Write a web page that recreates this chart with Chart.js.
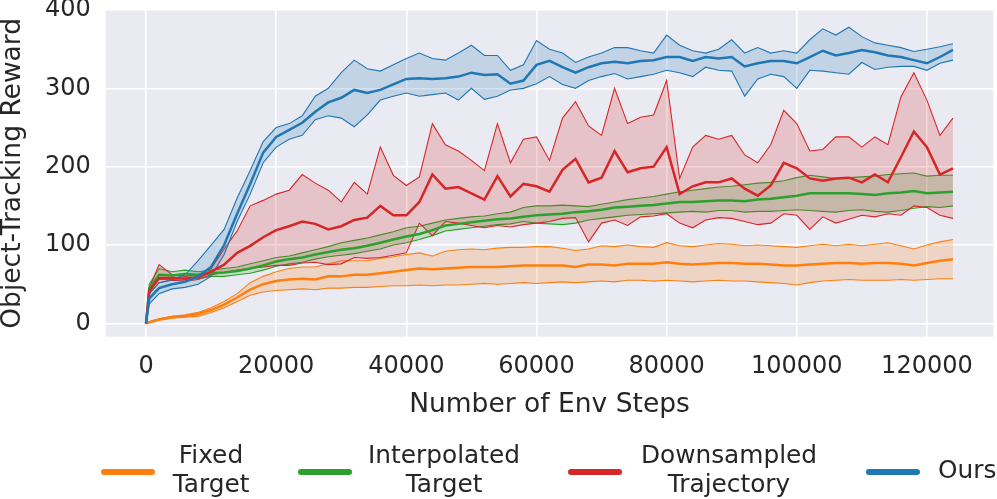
<!DOCTYPE html>
<html><head><meta charset="utf-8">
<script src="https://cdn.jsdelivr.net/npm/chart.js@4.4.0/dist/chart.umd.min.js"></script>
<style>
html,body{margin:0;padding:0;background:#fff;}
#wrap{position:relative;width:997px;height:499px;overflow:hidden;}
canvas{position:absolute;left:0;top:0;}
.leg{position:absolute;font-family:"DejaVu Sans";font-size:24.8px;color:#262626;line-height:29px;text-align:center;width:240px;white-space:nowrap;}
.sw{position:absolute;height:5.5px;border-radius:3px;width:54px;top:469px;}
</style></head>
<body><div id="wrap"><canvas id="c" width="997" height="499"></canvas>
<div class="sw" style="left:101px;background:#ff7f0e"></div>
<div class="leg" style="left:91px;top:439.5px">Fixed<br>Target</div>
<div class="sw" style="left:298px;background:#2ca02c"></div>
<div class="leg" style="left:324px;top:439.5px">Interpolated<br>Target</div>
<div class="sw" style="left:568px;background:#d62728"></div>
<div class="leg" style="left:609px;top:439.5px">Downsampled<br>Trajectory</div>
<div class="sw" style="left:866px;background:#1f77b4"></div>
<div class="leg" style="left:938px;top:454.5px;text-align:left;width:80px">Ours</div>
</div>
<script>
const steps = [0,500,2000,4000,6000,8000,10000,12000,14000,16000,18000,20000,22000,24000,26000,28000,30000,32000,34000,36000,38000,40000,42000,44000,46000,48000,50000,52000,54000,56000,58000,60000,62000,64000,66000,68000,70000,72000,74000,76000,78000,80000,82000,84000,86000,88000,90000,92000,94000,96000,98000,100000,102000,104000,106000,108000,110000,112000,114000,116000,118000,120000,122000,124000];

const fixedUpper = [0,2,6,9,11,14,20,28,38,52,60,66,70,72,72,76,80,80,80,83,85,88,90,86,92,94,95,94,96,97,97,98,98,96,93,95,99,98,100,98,97,103,99,98,100,102,101,99,100,99,98,97,99,101,99,101,99,101,103,99,95,100,104,107];
const fixedMean  = [0,1.5,5,8,9.5,12,17,24,33,43,50,54,56,57,56,60,60,62,62,64,66,68,70,69,70,71,72,72,72,73,74,74,74,74,72,75,75,74,76,76,76,78,76,75,76,77,77,76,76,75,74,74,75,76,77,77,76,77,77,76,74,77,80,82];
const fixedLower = [0,1,4,6.5,8,9,14,20,28,36,40,42,43,44,43,45,45,46,46,47,48,48,49,48,49,49,50,51,50,51,52,51,52,53,52,53,54,53,55,55,54,55,54,53,54,55,54,54,53,52,51,49,52,54,55,56,55,55,55,56,55,56,57,57];

const interpUpper = [0,50,70,66,68,66,68,70,72,76,80,84,86,90,94,98,103,106,109,113,117,122,124,128,132,134,136,137,140,142,148,150,150,151,150,149,152,155,158,160,162,165,168,170,172,174,175,177,179,180,182,186,189,187,185,186,187,188,190,191,192,188,189,189];
const interpMean  = [0,45,62,61,63,62,64,65,67,70,74,79,82,84,88,91,94,96,99,103,107,111,114,119,125,127,129,131,133,134,136,138,139,140,142,143,145,148,149,150,151,153,155,155,156,157,157,156,158,159,161,163,166,166,166,166,165,164,166,167,169,166,167,168];
const interpLower = [0,40,56,56,58,57,60,60,62,64,68,73,76,78,82,85,87,89,92,95,100,103,107,112,118,120,122,124,126,127,130,128,127,126,128,132,134,136,138,139,140,141,142,143,142,144,144,142,143,143,144,145,144,143,142,144,145,143,142,144,147,149,148,150];

const downUpper = [0,45,75,62,60,62,70,95,118,150,157,165,170,190,179,170,155,180,165,225,189,176,187,255,228,220,208,195,255,205,235,238,208,262,283,252,240,300,255,263,266,310,185,225,240,235,240,215,205,228,272,255,220,222,238,238,225,238,228,289,320,285,240,262];
const downMean  = [0,42,58,58,57,59,66,75,90,99,110,119,124,130,127,120,124,132,135,150,138,138,155,190,172,174,166,158,188,162,178,175,168,196,210,180,186,220,193,198,200,225,165,175,180,180,185,172,163,176,205,198,185,182,185,186,180,190,180,212,245,225,190,198];
const downLower = [0,38,52,55,54,56,62,65,68,70,72,74,74,77,78,75,76,84,83,84,87,90,128,112,130,128,125,122,125,123,126,128,130,134,135,104,128,132,125,136,137,140,128,122,132,135,134,130,126,128,140,138,120,136,128,133,138,136,140,138,150,148,138,134];

const oursUpper = [0,38,52,56,62,80,100,120,160,195,232,250,255,265,290,300,320,336,325,322,330,338,345,338,336,345,355,342,342,323,330,361,350,345,333,340,345,352,352,348,345,368,355,348,345,350,362,345,352,345,348,345,362,376,368,378,366,358,355,352,347,350,353,357];
const oursMean  = [0,32,45,50,53,60,72,100,140,178,218,238,247,256,270,282,288,298,294,298,305,312,313,312,313,315,320,317,318,306,310,330,335,327,320,327,332,334,332,335,336,340,340,335,340,338,340,328,332,335,335,332,340,348,342,345,349,346,342,340,336,332,340,349];
const oursLower = [0,25,38,44,46,50,60,88,130,165,205,225,235,240,260,265,262,251,266,285,290,294,290,292,294,285,300,286,290,298,300,306,315,305,300,310,315,319,312,315,318,323,320,315,327,323,322,290,312,318,315,300,323,322,320,318,333,324,327,328,328,323,332,336];

const xTicks = [0,20000,40000,60000,80000,100000,120000];
const yTicks = [0,100,200,300,400];

const FONT = "DejaVu Sans";
const TXT = "#262626";

const series = [
  {label:"Fixed Target", color:"#ff7f0e", rgb:"255,127,14", lower:fixedLower, mean:fixedMean, upper:fixedUpper, order:40, mo:4},
  {label:"Interpolated Target", color:"#2ca02c", rgb:"44,160,44", lower:interpLower, mean:interpMean, upper:interpUpper, order:30, mo:3},
  {label:"Downsampled Trajectory", color:"#d62728", rgb:"214,39,40", lower:downLower, mean:downMean, upper:downUpper, order:20, mo:2},
  {label:"Ours", color:"#1f77b4", rgb:"31,119,180", lower:oursLower, mean:oursMean, upper:oursUpper, order:10, mo:1}
];
const pts = arr => steps.map((x,i)=>({x:x, y:arr[i]}));
const datasets = [];
series.forEach(s=>{
  const base = datasets.length;
  datasets.push({label:s.label+" lower", data:pts(s.lower), borderColor:s.color, borderWidth:1.1, fill:false, order:s.order+2});
  datasets.push({label:s.label+" upper", data:pts(s.upper), borderColor:s.color, borderWidth:1.1, fill:{target:base}, backgroundColor:"rgba("+s.rgb+",0.2)", order:s.order+1});
  datasets.push({label:s.label, data:pts(s.mean), borderColor:s.color, borderWidth:2.5, fill:false, order:s.mo});
});

const bgPlugin = {id:"bg", beforeDraw(chart){const a=chart.chartArea; const ctx=chart.ctx; ctx.save(); ctx.fillStyle="#EAEAF2"; ctx.fillRect(a.left,a.top,a.right-a.left,a.bottom-a.top); ctx.restore();}};

new Chart(document.getElementById("c"), {
  type:"line",
  data:{datasets:datasets},
  plugins:[bgPlugin],
  options:{
    responsive:false, animation:false,
    layout:{padding:{top:10,right:3.7,bottom:81,left:0}},
    elements:{line:{tension:0}, point:{radius:0}},
    plugins:{legend:{display:false}, tooltip:{enabled:false}},
    scales:{
      x:{type:"linear", min:-6200, max:130200,
        afterBuildTicks:s=>{s.ticks = xTicks.map(v=>({value:v}));},
        afterFit:s=>{s.height=81.3; s.paddingLeft=0; s.paddingRight=0; s.paddingTop=0; s.paddingBottom=0;},
        grid:{color:"#ffffff", lineWidth:1.6, drawTicks:false},
        border:{display:false},
        ticks:{font:{family:FONT,size:24}, color:TXT, padding:16, maxRotation:0, autoSkip:false, callback:v=>String(v)},
        title:{display:true, text:"Number of Env Steps", font:{family:FONT,size:26.5,lineHeight:1}, color:TXT, padding:0}
      },
      y:{type:"linear", min:-17, max:400,
        afterBuildTicks:s=>{s.ticks = yTicks.map(v=>({value:v}));},
        afterFit:s=>{s.width=105.7; s.paddingLeft=0; s.paddingRight=0; s.paddingTop=0; s.paddingBottom=0;},
        grid:{color:"#ffffff", lineWidth:1.6, drawTicks:false},
        border:{display:false},
        ticks:{font:{family:FONT,size:24}, color:TXT, padding:15, autoSkip:false, callback:v=>String(v)},
        title:{display:true, text:"Object-Tracking Reward", font:{family:FONT,size:26.5,lineHeight:1}, color:TXT, padding:0}
      }
    }
  }
});
</script>
</body></html>
